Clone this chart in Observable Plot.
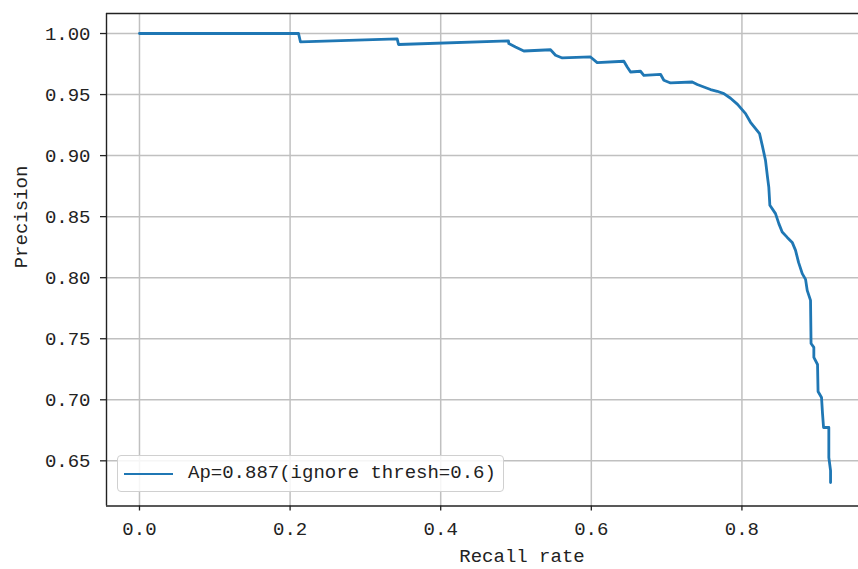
<!DOCTYPE html>
<html>
<head>
<meta charset="utf-8">
<script src="https://cdn.jsdelivr.net/npm/d3@7"></script>
<script src="https://cdn.jsdelivr.net/npm/@observablehq/plot@0.6"></script>
<style>
  html, body { margin: 0; padding: 0; background: #fff; overflow: hidden; }
  #wrap { position: relative; width: 858px; height: 569px; font-family: "Liberation Mono", "DejaVu Sans Mono", monospace; color: #222; }
  #wrap svg { display: block; }
  .lbl { position: absolute; font-size: 19px; white-space: nowrap; line-height: 1; }
  #legend { position: absolute; left: 117px; top: 455px; width: 387px; height: 37px; border: 1px solid #d0d0d0; border-radius: 4px; background: rgba(255,255,255,0.85); box-sizing: border-box; }
  #legend .swatch { position: absolute; left: 6px; top: 17px; width: 49px; height: 0; border-top: 2.8px solid #1f77b4; }
  #legend .txt { position: absolute; left: 70px; top: 8px; font-size: 19px; line-height: 1; white-space: nowrap; }
</style>
</head>
<body>
<div id="wrap"></div>
<script>
// Recall (x) and precision (y)
const recall = [
  0, 0.2112, 0.2138, 0.3422, 0.3440, 0.4900, 0.4904, 0.4993, 0.5104, 0.5458,
  0.5525, 0.5614, 0.5989, 0.6078, 0.6432, 0.6477, 0.6521, 0.6653, 0.6697, 0.6919,
  0.6963, 0.7052, 0.7340, 0.7407, 0.7494, 0.7583, 0.7672, 0.7760, 0.7849, 0.7942,
  0.8048, 0.8114, 0.8181, 0.8234, 0.8270, 0.8313, 0.8340, 0.8357, 0.8371, 0.8446,
  0.8490, 0.8535, 0.8602, 0.8668, 0.8712, 0.8752, 0.8801, 0.8845, 0.8867, 0.8911,
  0.8918, 0.8955, 0.8955, 0.9004, 0.9011, 0.9057, 0.9070, 0.9084, 0.9154, 0.9154,
  0.9177, 0.9177
];
const precision = [
  1.0000, 1.0000, 0.9931, 0.9956, 0.9910, 0.9939, 0.9918, 0.9890, 0.9857, 0.9867,
  0.9822, 0.9800, 0.9808, 0.9762, 0.9773, 0.9726, 0.9685, 0.9691, 0.9658, 0.9666,
  0.9617, 0.9595, 0.9603, 0.9582, 0.9562, 0.9541, 0.9527, 0.9508, 0.9470, 0.9420,
  0.9344, 0.9273, 0.9221, 0.9180, 0.9084, 0.8961, 0.8822, 0.8740, 0.8593, 0.8525,
  0.8443, 0.8374, 0.8330, 0.8289, 0.8224, 0.8125, 0.8033, 0.7986, 0.7896, 0.7814,
  0.7461, 0.7429, 0.7347, 0.7289, 0.7068, 0.7019, 0.6888, 0.6773, 0.6773, 0.6527,
  0.6420, 0.6322
];
const xTicks = [0, 0.2, 0.4, 0.6, 0.8];
const yTicks = [0.65, 0.70, 0.75, 0.80, 0.85, 0.90, 0.95, 1.00];
const xDomain = [-0.0438, 0.9548];
const yDomain = [0.6130, 1.0164];
const legendLabel = "Ap=0.887(ignore thresh=0.6)";
const xLabel = "Recall rate";
const yLabel = "Precision";

const data = recall.map((r, i) => ({recall: r, precision: precision[i]}));

const gridStyle = {stroke: "#c0c0c0", strokeOpacity: 1, strokeWidth: 1.5};
const chart = Plot.plot({
  width: 858,
  height: 569,
  marginLeft: 106,
  marginRight: 0,
  marginTop: 13,
  marginBottom: 63.5,
  style: {fontFamily: "Liberation Mono, DejaVu Sans Mono, monospace", fontSize: "19px", color: "#222", background: "#fff"},
  x: {domain: xDomain},
  y: {domain: yDomain},
  marks: [
    Plot.gridX(xTicks, gridStyle),
    Plot.gridY(yTicks, gridStyle),
    Plot.axisX(xTicks, {tickFormat: d3.format(".1f"), tickSize: 5, tickPadding: 10, label: null, strokeWidth: 1.3}),
    Plot.axisY(yTicks, {tickFormat: d3.format(".2f"), tickSize: 6, tickPadding: 10, label: null, strokeWidth: 1.3}),
    Plot.ruleX([xDomain[0]], {stroke: "#222", strokeWidth: 1.4}),
    Plot.ruleY(yDomain, {stroke: "#222", strokeWidth: 1.4}),
    Plot.line(data, {x: "recall", y: "precision", stroke: "#1f77b4", strokeWidth: 2.8, curve: "linear"})
  ]
});

const wrap = document.getElementById("wrap");
wrap.appendChild(chart);

const xl = document.createElement("div");
xl.className = "lbl";
xl.textContent = xLabel;
xl.style.left = "522px"; xl.style.top = "557px";
xl.style.transform = "translate(-50%, -50%)";
wrap.appendChild(xl);

const yl = document.createElement("div");
yl.className = "lbl";
yl.textContent = yLabel;
yl.style.left = "22px"; yl.style.top = "217px";
yl.style.transform = "translate(-50%, -50%) rotate(-90deg)";
wrap.appendChild(yl);

const lg = document.createElement("div");
lg.id = "legend";
lg.innerHTML = '<div class="swatch"></div><div class="txt"></div>';
lg.querySelector(".txt").textContent = legendLabel;
wrap.appendChild(lg);
</script>
</body>
</html>
